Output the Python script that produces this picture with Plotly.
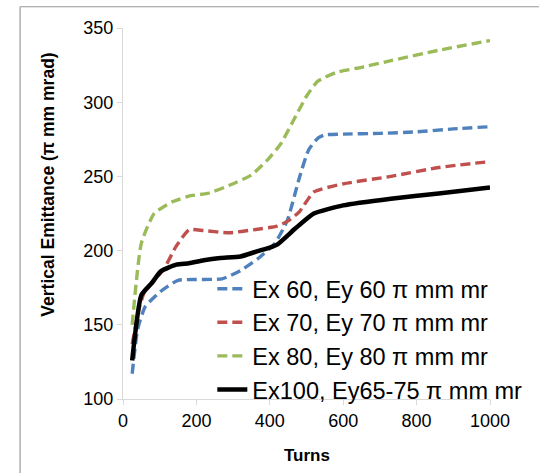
import plotly.graph_objects as go

# Ex 60, Ey 60
t60 = [25, 40, 60, 100, 150, 200, 270, 320, 370, 414, 448, 481, 506, 532, 550, 600, 700, 800, 900, 1000]
v60 = [117, 147, 162, 172, 180, 180.5, 181, 186.5, 195, 205, 220.5, 249.5, 268, 276, 278, 278.5, 279, 280, 282, 283.5]
# Ex 70, Ey 70
t70 = [25, 45, 60, 110, 145, 180, 220, 290, 355, 420, 450, 480, 520, 600, 730, 860, 1000]
v70 = [137, 162, 173, 187, 203, 214, 213.5, 212, 214, 216.5, 220, 226, 239.5, 245, 250, 256, 260]
# Ex 80, Ey 80
t80 = [25, 50, 85, 135, 185, 230, 290, 350, 397, 430, 465, 500, 530, 580, 650, 730, 860, 1000]
v80 = [150, 205, 225, 233, 237, 238.5, 244, 251, 262, 272, 288, 304, 314, 320, 323.5, 328, 335, 341.5]
# Ex100, Ey65-75
t100 = [25, 50, 78, 103, 145, 180, 220, 265, 320, 365, 400, 420, 470, 520, 600, 730, 860, 1000]
v100 = [126, 170, 178, 186, 190.5, 191.5, 193.5, 195, 196, 199.5, 202, 204, 215, 225, 230.5, 235, 238.5, 242.5]

names = ["Ex 60, Ey 60 \u03c0 mm mr", "Ex 70, Ey 70 \u03c0 mm mr",
         "Ex 80, Ey 80 \u03c0 mm mr", "Ex100, Ey65-75 \u03c0 mm mr"]
series = [(t60, v60), (t70, v70), (t80, v80), (t100, v100)]
colors = ["#4F81BD", "#C0504D", "#9BBB59", "#000000"]
widths = [3.4, 3.4, 3.4, 4.5]
dashes = ["10px,5px", "10px,5px", "10px,5px", "solid"]

fig = go.Figure()
for (t, v), n, c, w, d in zip(series, names, colors, widths, dashes):
    fig.add_trace(go.Scatter(x=t, y=v, mode="lines", name=n,
                             line=dict(color=c, width=w, dash=d, shape="spline", smoothing=0.5)))

W, H = 539, 473
L, R, T, B = 122.5, 20, 27.5, 73.7
pw, ph = W - L - R, H - T - B

fig.update_layout(
    width=W, height=H,
    margin=dict(l=L, r=R, t=T, b=B),
    paper_bgcolor="white", plot_bgcolor="white",
    font=dict(family="Liberation Sans, Arial, sans-serif", color="#000"),
    showlegend=True,
    legend=dict(x=(219 - L) / pw, y=1 - (267 - T) / ph, xanchor="left", yanchor="top",
                font=dict(size=23.5, color="#000"), bgcolor="rgba(0,0,0,0)",
                borderwidth=0, tracegroupgap=0),
    xaxis=dict(range=[0, 1000], tickvals=[0, 200, 400, 600, 800, 1000],
               showgrid=False, zeroline=False, showline=True, linecolor="#d9d9d9", linewidth=1,
               ticks="outside", ticklen=5, tickcolor="#d9d9d9", ticklabeloverflow="allow",
               tickfont=dict(size=18, color="#000")),
    yaxis=dict(range=[100, 350], tickvals=[100, 150, 200, 250, 300, 350],
               showgrid=False, zeroline=False, showline=True, linecolor="#d9d9d9", linewidth=1,
               ticks="outside", ticklen=5, tickcolor="#d9d9d9",
               tickfont=dict(size=18, color="#000")),
    annotations=[
        dict(text="<b>Turns</b>", xref="paper", yref="paper",
             x=(321 - L) / pw, y=-(456 - (H - B)) / ph, xanchor="center", yanchor="middle",
             showarrow=False, font=dict(size=17, color="#000")),
        dict(text="<b>Vertical Emittance (\u03c0 mm mrad)</b>", xref="paper", yref="paper",
             x=-(L - 42) / pw, y=1 - (184 - T) / ph, xanchor="center", yanchor="middle",
             textangle=-90, showarrow=False, font=dict(size=17.5, color="#000")),
    ],
    shapes=[
        dict(type="line", xref="paper", yref="paper",
             x0=-(L - 11.3) / pw, x1=-(L - 11.3) / pw, y0=1 + (T - 6.2) / ph, y1=-B / ph - 0.1,
             line=dict(color="#999999", width=1.2)),
        dict(type="line", xref="paper", yref="paper",
             x0=-(L - 11.3) / pw, x1=1 + R / pw + 0.1, y0=1 + (T - 6.2) / ph, y1=1 + (T - 6.2) / ph,
             line=dict(color="#999999", width=1.2)),
    ],
)

fig.write_html("out.html")
